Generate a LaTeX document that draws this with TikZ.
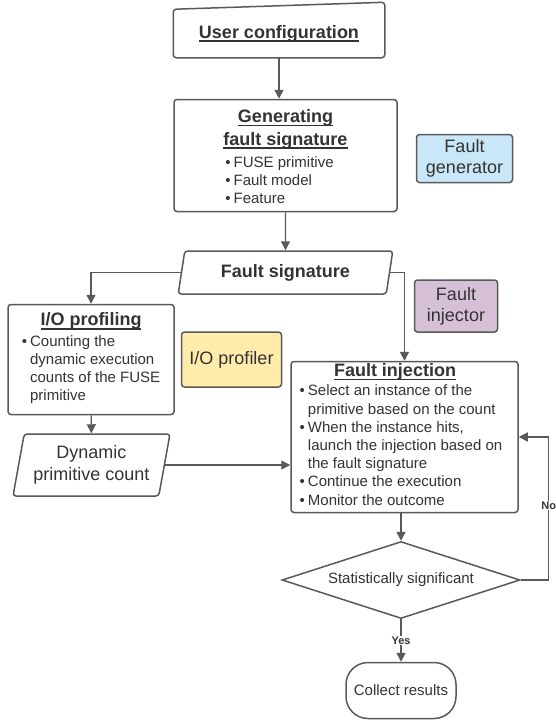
\documentclass[tikz,border=0pt]{standalone}
\usepackage{fontspec}
\setmainfont{Liberation Sans}
\usetikzlibrary{positioning,shapes.geometric,arrows.meta}
\definecolor{linegray}{HTML}{595959}
\definecolor{textgray}{HTML}{333333}
\definecolor{genblue}{HTML}{C9E7F8}
\definecolor{profyellow}{HTML}{FFEBAA}
\definecolor{injpurple}{HTML}{D6C0D8}
\newcommand\heading[1]{{\fontsize{18}{22}\selectfont\bfseries\setbox0\hbox{#1}\rlap{\rule[-3.6pt]{\wd0}{1.3pt}}\box0}}

\begin{document}
\begin{tikzpicture}[box/.style={draw=linegray, line width=1.5pt, rounded corners=3pt, fill=white, text=textgray, align=center, font=\fontsize{15}{18.2}\selectfont},
    tool/.style={box, font=\fontsize{18}{21}\selectfont},
    datanode/.style={box, trapezium, trapezium left angle=76, trapezium right angle=104, trapezium stretches=true, inner sep=0pt},
    arr/.style={draw=linegray, line width=1.4pt, -{Triangle[length=9pt,width=9pt]}},
    lab/.style={fill=white, text=textgray, font=\fontsize{11}{13}\selectfont\bfseries, inner sep=1pt}] %
    \useasboundingbox (0,0) rectangle (555pt,-721pt);
    \node[box, draw=none, fill=none, minimum width=210pt, minimum height=47pt] at (279pt,-33.5pt) (user) {\heading{User configuration}} ; %
    \draw[draw=linegray, line width=1.5pt, rounded corners=3pt] (user.south west) -- (user.south east) -- ([yshift=7pt]user.north east) -- (user.north west) -- cycle;
    \node[box, below=41pt of user, xshift=6.5pt, minimum width=223pt, minimum height=112pt, inner ysep=1pt] (gen) {\heading{Generating}\\[4pt]\heading{fault signature}\\[4pt]
      \begin{tabular}[t]{@{}l@{\hskip3pt}l@{\hskip12pt}}
        \textbullet & FUSE primitive\\
        \textbullet & Fault model\\
        \textbullet & Feature\\[-8pt]
      \end{tabular}} ; %
    \node[tool, fill=genblue, right=18pt of gen, yshift=-3pt, minimum width=96pt, minimum height=48pt] (faultgen) {Fault\\generator} ; %
    \node[datanode, below=38pt of gen, minimum width=215pt, minimum height=43pt] (sig) {\fontsize{18}{22}\selectfont\bfseries Fault signature} ;
    \node[box, below=9pt of sig, xshift=-194.5pt, minimum width=166pt, minimum height=110pt] (io) {\heading{I/O profiling}\\[2pt]
      \begin{tabular}[t]{@{}l@{\hskip3pt}l@{}}
        \textbullet & Counting the\\
        & dynamic execution\\
        & counts of the FUSE\\
        & primitive
      \end{tabular}} ;
    \node[tool, fill=profyellow, right=6pt of io, minimum width=100pt, minimum height=55pt] (profiler) {I/O profiler} ;
    \node[datanode, below=18pt of io, xshift=0.5pt, minimum width=157pt, minimum height=62pt, font=\fontsize{18}{22}\selectfont] (dyn) {Dynamic\\primitive count} ;
    \node[box, below=66pt of sig, xshift=119pt, minimum width=227pt, minimum height=151pt, inner ysep=1pt] (inj) {
      \begin{tabular}{@{}l@{\hskip3pt}l@{\hskip7pt}}
        \multicolumn{2}{@{}c@{\hskip19pt}}{\heading{Fault injection}}\\[1pt]
        \textbullet & Select an instance of the\\
        & primitive based on the count\\
        \textbullet & When the instance hits,\\
        & launch the injection based on\\
        & the fault signature\\
        \textbullet & Continue the execution\\
        \textbullet & Monitor the outcome
      \end{tabular}} ;
    \node[tool, fill=injpurple, above=28pt of inj, xshift=51.5pt, minimum width=83pt, minimum height=52pt] (injector) {Fault\\injector} ;
    \node[box, diamond, below=27.5pt of inj, xshift=-3.5pt, aspect=3.09, minimum width=238pt, minimum height=77pt, inner sep=0pt, rounded corners=0pt] (decide) {Statistically significant} ;
    \node[box, below=42.5pt of decide, minimum width=110pt, minimum height=56pt, rounded corners=22pt] (results) {Collect results} ;
    \draw[arr] (user.south) -- (user.south |- gen.north) ; %
    \draw[arr] (gen) -- (sig) ;
    \draw[arr] (sig.west) -| (io.north) ;
    \draw[arr] (sig.east) -| (inj.north) ;
    \draw[arr] (io) -- (dyn) ;
    \draw[arr] (dyn.east) -- (dyn.east -| inj.west) ;
    \draw[arr] (decide.north |- inj.south) -- (decide.north) ;
    \draw[arr] (decide) -- node[lab] {Yes} (results) ;
    \draw[arr] (decide.east) -- ++(28pt,0) |- node[lab, pos=0.26] {No} (inj.east) ;
  \end{tikzpicture}
\end{document}
